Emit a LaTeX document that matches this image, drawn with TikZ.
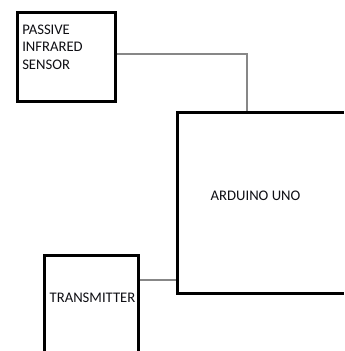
\documentclass[tikz,border=0pt]{standalone}
\usepackage{fontspec}
\setmainfont{Carlito}
\usepackage{xcolor}
\usepackage{tikz}
\usetikzlibrary{positioning, calc}
\definecolor{BlockBorder}{RGB}{0, 0, 0}
\definecolor{WireGray}{RGB}{135, 135, 135}
\definecolor{BlockText}{RGB}{15, 15, 20}

\tikzset{
  block/.style={draw=BlockBorder, line width=2.3pt, fill=white, inner sep=0pt},
  wire/.style={draw=WireGray, line width=0.9pt},
  blocktext/.style={font=\fontsize{11}{13.2}\selectfont, text=BlockText, inner sep=0pt}
}

\begin{document}
\begin{tikzpicture}[x=0.75pt, y=-0.75pt]
    \clip (0,0) rectangle (344,351);
    \useasboundingbox (0,0) rectangle (344,351);
    \fill[white] (0,0) rectangle (344,351);

    % connectors first, boxes drawn over them
    \coordinate (pirbend) at (247,54);
    \coordinate (txjoin) at (158,280);

    \node[block, minimum width=73.5pt, minimum height=66.75pt] (pir) at (66.5,57) {};
    \node[block, minimum width=128pt, minimum height=135.75pt] (ard) at (262.75,203) {};
    \node[block, minimum width=70.5pt, minimum height=75.5pt] (tx) at (91.5,305.75) {};

    \draw[wire] (pir.east |- pirbend) -- (pirbend) -- (pirbend |- ard.north);
    \draw[wire] (tx.east |- txjoin) -- (ard.west |- txjoin);

    \node[blocktext, anchor=north west, align=left] (pirtext) at (22,24.5) {PASSIVE\\INFRARED\\SENSOR};
    \node[blocktext] (ardtext) at (255.5,196) {ARDUINO UNO};
    \node[blocktext] (txtext) at (92.5,297.5) {TRANSMITTER};
\end{tikzpicture}
\end{document}
